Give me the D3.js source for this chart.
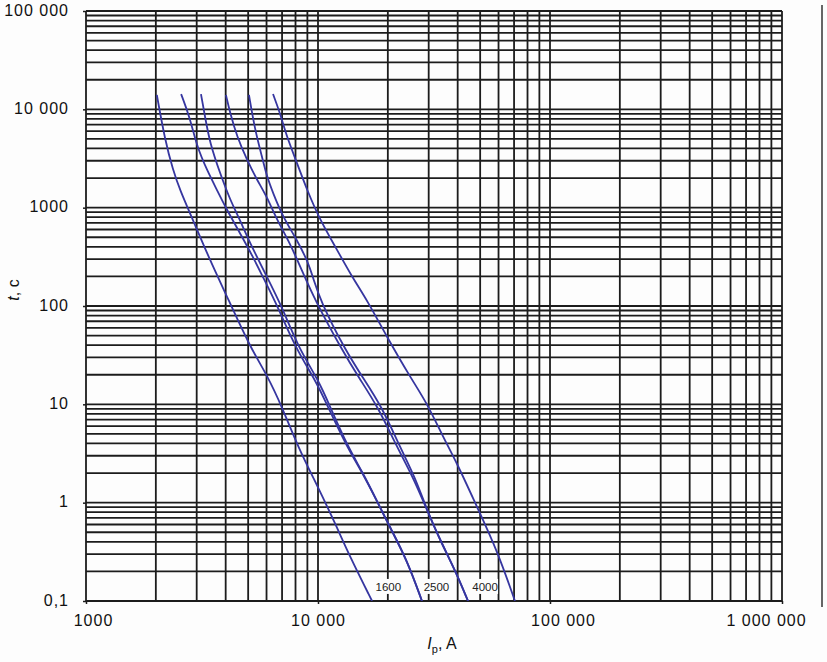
<!DOCTYPE html>
<html>
<head>
<meta charset="utf-8">
<script src="https://cdn.jsdelivr.net/npm/d3@7"></script>
<style>
  html, body { margin: 0; padding: 0; background: #fdfdfd; }
  svg { display: block; font-family: "Liberation Sans", Arial, sans-serif; }
  .grid line { stroke: #1c1c1c; stroke-width: 1.8; }
  .axis path { display: none; }
  .axis line { stroke: #1c1c1c; stroke-width: 1.5; }
  .axis text { font-size: 16px; fill: #111; letter-spacing: 1px; }
  .curve { fill: none; stroke: #3636a0; stroke-width: 1.8; }
</style>
</head>
<body>
<svg id="chart" width="827" height="662"></svg>
<script>
"use strict";

// ── Data ─────────────────────────────────────────────────────────────────────
const yTickValues = [0.1, 1, 10, 100, 1000, 10000, 100000];
const yTickLabels = ["0,1", "1", "10", "100", "1000", "10 000", "100 000"];
const xTickValues = [1000, 10000, 100000, 1000000];
const xTickLabels = ["1000", "10 000", "100 000", "1 000 000"];

// time-current curves: current Ip (A) and time t (s)
const curve1I = [2020, 2190, 2370, 2540, 2890, 3420, 3970, 5090, 6030, 7000, 8200, 10000, 11840, 13740, 17100];
const curve1T = [14000, 4880, 2420, 1510, 750, 294, 139, 38.3, 19.9, 9.4, 3.68, 1.44, 0.62, 0.28, 0.1];

const curve2I = [2570, 2800, 3010, 3320, 3670, 4050, 4610, 5250, 5790, 6720, 7960, 9900, 11040, 13340, 15480, 18140, 20400, 24190, 28060];
const curve2T = [14300, 8350, 4140, 2420, 1510, 946, 552, 315, 197, 97.7, 38.3, 16.5, 9.4, 3.68, 2.05, 0.99, 0.566, 0.261, 0.1];

const curve3I = [3130, 3260, 3420, 3780, 4180, 4610, 5090, 6030, 7000, 8200, 10200, 11270, 13470, 15550, 18140, 20400, 24190, 28060];
const curve3T = [14300, 8350, 4550, 2250, 1200, 750, 437, 197, 97.7, 38.3, 16.5, 9.4, 3.68, 2.05, 0.99, 0.566, 0.261, 0.1];

const curve4I = [4010, 4180, 4480, 4940, 5460, 6030, 6650, 7570, 8610, 9700, 12690, 15010, 18140, 21900, 25680, 29500, 33570, 38950, 44330];
const curve4T = [14000, 9180, 5240, 3060, 1910, 1285, 750, 437, 217, 115, 35.7, 18.6, 9.4, 3.68, 1.82, 0.842, 0.417, 0.207, 0.1];

const curve5I = [5040, 5350, 5740, 6030, 6400, 7060, 8120, 8970, 9510, 10200, 13090, 15630, 18860, 22560, 26190, 29500, 33570, 38950, 44330];
const curve5T = [14000, 6170, 3280, 2050, 1410, 803, 469, 294, 197, 115, 35.7, 18.6, 9.4, 3.68, 1.82, 0.842, 0.417, 0.207, 0.1];

const curve6I = [6400, 6860, 7340, 8120, 8970, 10200, 11960, 14020, 16270, 19830, 24930, 29500, 34580, 39720, 48460, 59100, 70630];
const curve6T = [14300, 9180, 5240, 2850, 1510, 750, 389, 197, 115, 48.4, 19.0, 10.3, 4.66, 2.53, 0.904, 0.330, 0.1];

const ratingLabels = ["1600", "2500", "4000"];
const ratingLabelI = [20100, 32400, 52500];
const ratingLabelT = 0.139;

// ── Setup ────────────────────────────────────────────────────────────────────
const svg = d3.select("#chart");
const plotL = 86, plotR = 782, plotT = 11, plotB = 601;

const x = d3.scaleLog().domain([1000, 1000000]).range([plotL, plotR]);
const y = d3.scaleLog().domain([0.1, 100000]).range([plotB, plotT]);

// grid (1..9 per decade)
const grid = svg.append("g").attr("class", "grid");
grid.selectAll(".v").data(x.ticks()).enter().append("line")
  .attr("x1", d => x(d)).attr("x2", d => x(d))
  .attr("y1", plotT).attr("y2", plotB);
grid.selectAll(".h").data(y.ticks()).enter().append("line")
  .attr("x1", plotL).attr("x2", plotR)
  .attr("y1", d => y(d)).attr("y2", d => y(d));

// separate frame line on the right
svg.append("line")
  .attr("x1", 822).attr("x2", 822).attr("y1", 5).attr("y2", 607)
  .attr("stroke", "#333").attr("stroke-width", 1.5);

// ── Axes ─────────────────────────────────────────────────────────────────────
svg.append("g").attr("class", "axis")
  .attr("transform", `translate(${plotL},0)`)
  .call(d3.axisLeft(y).tickValues(yTickValues).tickSize(3).tickPadding(14)
    .tickFormat((d, i) => yTickLabels[i]))
  .selectAll("text").attr("dy", "0.25em");

// small per-label nudges, as in the original drawing
const xNudge = [7, 0, 13, -16];
svg.append("g").attr("class", "axis")
  .attr("transform", `translate(0,${plotB})`)
  .call(d3.axisBottom(x).tickValues(xTickValues).tickSize(3).tickPadding(11)
    .tickFormat((d, i) => xTickLabels[i]))
  .selectAll("text").attr("dx", (d, i) => xNudge[i]);

// ── Curves ───────────────────────────────────────────────────────────────────
svg.append("clipPath").attr("id", "plotClip")
  .append("rect").attr("x", plotL).attr("y", plotT)
  .attr("width", plotR - plotL).attr("height", plotB - plotT);

const line = d3.line()
  .x(d => x(d[0])).y(d => y(d[1]))
  .curve(d3.curveBasis);

const curves = [
  [curve1I, curve1T], [curve2I, curve2T], [curve3I, curve3T],
  [curve4I, curve4T], [curve5I, curve5T], [curve6I, curve6T]
].map(([I, T]) => I.map((v, i) => [v, T[i]]));

svg.append("g").attr("clip-path", "url(#plotClip)")
  .selectAll("path").data(curves).enter().append("path")
  .attr("class", "curve")
  .attr("d", line);

// ── Rating labels with white boxes ───────────────────────────────────────────
const lab = svg.append("g").selectAll("g").data(ratingLabels).enter().append("g")
  .attr("transform", (d, i) => `translate(${x(ratingLabelI[i])},${y(ratingLabelT)})`);
lab.append("rect")
  .attr("x", -13).attr("y", -8).attr("width", 26).attr("height", 15)
  .attr("fill", "#fdfdfd");
lab.append("text")
  .attr("text-anchor", "middle").attr("dy", "0.36em")
  .attr("font-size", "11.5px").attr("fill", "#222")
  .text(d => d);

// ── Axis titles ──────────────────────────────────────────────────────────────
const yTitle = svg.append("text")
  .attr("transform", "translate(19,290) rotate(-90)")
  .attr("text-anchor", "middle")
  .attr("font-size", "16px").attr("fill", "#111");
yTitle.append("tspan").attr("font-style", "italic").text("t");
yTitle.append("tspan").text(", c");

const xTitle = svg.append("text")
  .attr("x", 442).attr("y", 649)
  .attr("text-anchor", "middle")
  .attr("font-size", "16px").attr("fill", "#111");
xTitle.append("tspan").attr("font-style", "italic").text("I");
xTitle.append("tspan").attr("font-size", "11px").attr("dy", "4").text("p");
xTitle.append("tspan").attr("dy", "-4").text(", A");
</script>
</body>
</html>
